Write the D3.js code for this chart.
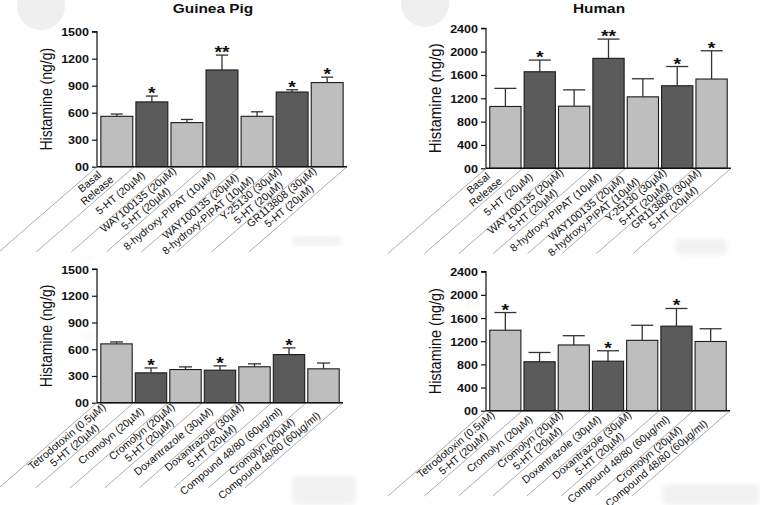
<!DOCTYPE html>
<html><head><meta charset="utf-8">
<script src="https://cdn.jsdelivr.net/npm/d3@7"></script>
<style>
html,body{margin:0;padding:0;background:#fff;}
svg{display:block;font-family:"Liberation Sans",Arial,Helvetica,sans-serif;}
</style></head>
<body>
<svg id="chart" width="760" height="505"></svg>
<script>
// ---- data ----
const topCategories = [
  ["Basal","Release"],
  ["5-HT (20µM)"],
  ["WAY100135 (20µM)","5-HT (20µM)"],
  ["8-hydroxy-PIPAT (10µM)"],
  ["WAY100135 (20µM)","8-hydroxy-PIPAT (10µM)"],
  ["Y-25130 (30µM)","5-HT (20µM)"],
  ["GR113808 (30µM)","5-HT (20µM)"]
];
const bottomCategories = [
  ["Tetrodotoxin (0.5µM)","5-HT (20µM)"],
  ["Cromolyn (20µM)"],
  ["Cromolyn (20µM)","5-HT (20µM)"],
  ["Doxantrazole (30µM)"],
  ["Doxantrazole  (30µM)","5-HT (20µM)"],
  ["Compound 48/80 (60µg/ml)"],
  ["Cromolyn (20µM)","Compound 48/80 (60µg/ml)"]
];
const shadeTop = ["light","dark","light","dark","light","dark","light"];
const shadeBottom = ["light","dark","light","dark","light","dark","light"];

const gpTopValues = [560, 720, 490, 1075, 560, 830, 935];
const gpTopErrors = [25, 65, 35, 165, 50, 25, 60];
const gpTopStars  = ["", "*", "", "**", "", "*", "*"];

const huTopValues = [1060, 1655, 1065, 1885, 1225, 1415, 1530];
const huTopErrors = [310, 200, 280, 330, 310, 330, 485];
const huTopStars  = ["", "*", "", "**", "", "*", "*"];

const gpBottomValues = [660, 335, 372, 365, 403, 540, 380];
const gpBottomErrors = [22, 55, 30, 48, 33, 75, 65];
const gpBottomStars  = ["", "*", "", "*", "", "*", ""];

const huBottomValues = [1390, 845, 1135, 855, 1215, 1460, 1195];
const huBottomErrors = [305, 160, 160, 180, 260, 305, 220];
const huBottomStars  = ["*", "", "", "*", "", "*", ""];

const gpTicks = [0, 300, 600, 900, 1200, 1500];
const gpTickLabels = ["00", "300", "600", "900", "1200", "1500"];
const huTicks = [0, 400, 800, 1200, 1600, 2000, 2400];
const huTickLabels = ["00", "400", "800", "1200", "1600", "2000", "2400"];

const titles = ["Guinea Pig", "Human"];
const yLabel = "Histamine (ng/g)";

// ---- drawing ----
const svg = d3.select("#chart");
const colors = {light: "#bebebe", dark: "#5b5b5b"};

const defs = svg.append("defs");
defs.append("filter").attr("id", "soft").append("feGaussianBlur").attr("stdDeviation", 2.5);

// faint background marks seen in the reference
const bg = svg.append("g");
bg.append("circle").attr("cx", 41).attr("cy", 6).attr("r", 24).attr("fill", "#efefef");
bg.append("circle").attr("cx", 425).attr("cy", 3).attr("r", 24).attr("fill", "#efefef");
[[292,236,50,10],[675,239,52,16],[292,476,64,29],[662,484,98,21]].forEach(r=>{
  bg.append("rect").attr("x", r[0]).attr("y", r[1]).attr("width", r[2]).attr("height", r[3])
    .attr("rx", 5).attr("fill", "#f2f2f2").attr("filter", "url(#soft)");
});

const panels = [
  {cats: topCategories, shade: shadeTop, vals: gpTopValues, errs: gpTopErrors, stars: gpTopStars,
   ticks: gpTicks, tickLabels: gpTickLabels, max: 1500, x0: 97, x1: 347, y0: 166.7, y1: 31.7,
   cap: 12, title: titles[0], titleX: 213, ylabFs: 14},
  {cats: topCategories, shade: shadeTop, vals: huTopValues, errs: huTopErrors, stars: huTopStars,
   ticks: huTicks, tickLabels: huTickLabels, max: 2400, x0: 486, x1: 731, y0: 168.3, y1: 28.3,
   cap: 22, title: titles[1], titleX: 599, ylabFs: 15},
  {cats: bottomCategories, shade: shadeBottom, vals: gpBottomValues, errs: gpBottomErrors, stars: gpBottomStars,
   ticks: gpTicks, tickLabels: gpTickLabels, max: 1500, x0: 97, x1: 343, y0: 402.7, y1: 269,
   cap: 13, title: null, ylabFs: 14},
  {cats: bottomCategories, shade: shadeBottom, vals: huBottomValues, errs: huBottomErrors, stars: huBottomStars,
   ticks: huTicks, tickLabels: huTickLabels, max: 2400, x0: 486, x1: 730, y0: 410.7, y1: 271.7,
   cap: 22, title: null, ylabFs: 14.5}
];

const SX = 1.14; // horizontal stretch of the reference text
const lineAng = 41 * Math.PI / 180;
const textAngDeg = 40;
const lineLen = 130;

panels.forEach(p => {
  const g = svg.append("g");
  const idx = d3.range(p.vals.length);
  const x = d3.scaleBand().domain(idx).range([p.x0, p.x1]).paddingInner(0.09).paddingOuter(0.11);
  const y = d3.scaleLinear().domain([0, p.max]).range([p.y0, p.y1]);

  // title
  if (p.title) {
    g.append("text").attr("transform", `translate(${p.titleX},13) scale(${SX},1)`)
      .attr("text-anchor", "middle").attr("font-size", 13.5).attr("font-weight", "bold")
      .attr("fill", "#111").text(p.title);
  }

  // y label
  g.append("text")
    .attr("transform", `translate(${p.x0 - 45},${(p.y0 + p.y1) / 2}) scale(${SX},1) rotate(-90)`)
    .attr("text-anchor", "middle").attr("font-size", p.ylabFs).attr("fill", "#111").text(yLabel);

  // y axis
  const yAxis = d3.axisLeft(y).tickValues(p.ticks).tickSize(5).tickPadding(3)
    .tickFormat((d, i) => p.tickLabels[i]);
  const ax = g.append("g").attr("transform", `translate(${p.x0},0)`).call(yAxis);
  ax.select(".domain").attr("stroke", "#111").attr("stroke-width", 1.2).attr("d", `M-5,${p.y1}H0V${p.y0}`);
  ax.selectAll(".tick line").attr("stroke", "#111").attr("stroke-width", 1.2);
  ax.selectAll(".tick text").each(function() {
    d3.select(this).attr("x", null).attr("dy", null)
     .attr("transform", `translate(-8,4) scale(${SX},1)`)
     .attr("font-size", 11).attr("font-weight", "bold").attr("fill", "#111")
     .attr("font-family", "Liberation Sans, Arial, sans-serif");
  });

  // diagonal separator lines
  const bounds = [p.x0];
  for (let i = 1; i < idx.length; i++) bounds.push((x(i - 1) + x.bandwidth() + x(i)) / 2);
  bounds.push(p.x1);
  g.selectAll(".sep").data(bounds).enter().append("line")
    .attr("x1", d => d).attr("y1", p.y0)
    .attr("x2", d => d - lineLen * Math.cos(lineAng)).attr("y2", p.y0 + lineLen * Math.sin(lineAng))
    .attr("stroke", "#8a8a8a").attr("stroke-width", 0.7);

  // bars
  g.selectAll(".bar").data(idx).enter().append("rect")
    .attr("x", i => x(i)).attr("width", x.bandwidth())
    .attr("y", i => y(p.vals[i])).attr("height", i => y(0) - y(p.vals[i]))
    .attr("fill", i => colors[p.shade[i]]).attr("stroke", "#1c1c1c").attr("stroke-width", 1.1);

  // x axis line
  g.append("line").attr("x1", p.x0).attr("x2", p.x1).attr("y1", p.y0).attr("y2", p.y0)
    .attr("stroke", "#111").attr("stroke-width", 1.4);

  // error bars
  idx.forEach(i => {
    const cx = x(i) + x.bandwidth() / 2;
    const yt = y(p.vals[i] + p.errs[i]);
    g.append("line").attr("x1", cx).attr("x2", cx).attr("y1", y(p.vals[i])).attr("y2", yt)
      .attr("stroke", "#333").attr("stroke-width", 1.3);
    g.append("line").attr("x1", cx - p.cap / 2).attr("x2", cx + p.cap / 2).attr("y1", yt).attr("y2", yt)
      .attr("stroke", "#333").attr("stroke-width", 1.3);
    if (p.stars[i]) {
      g.append("text").attr("transform", `translate(${cx},${yt + 3}) scale(${SX},1)`)
        .attr("text-anchor", "middle").attr("font-size", 17).attr("font-weight", "bold")
        .attr("fill", "#111").text(p.stars[i]);
    }
  });

  // category labels
  const fs = 10.6, lh = 11.5, d = 11;
  idx.forEach(i => {
    const cx = x(i) + x.bandwidth() / 2;
    const ax0 = cx - d * Math.cos(lineAng), ay0 = p.y0 + d * Math.sin(lineAng);
    const lines = p.cats[i];
    const t = g.append("text").attr("transform", `translate(${ax0},${ay0}) rotate(${-textAngDeg})`)
      .attr("font-size", fs).attr("fill", "#111").attr("text-anchor", "middle");
    const tsp = lines.map((s, k) => t.append("tspan").attr("y", (k - (lines.length - 1) / 2) * lh + 0.3 * fs).text(s));
    const maxW = d3.max(tsp, s => s.node().getComputedTextLength());
    tsp.forEach(s => s.attr("x", -maxW / 2));
  });
});
</script>
</body></html>
